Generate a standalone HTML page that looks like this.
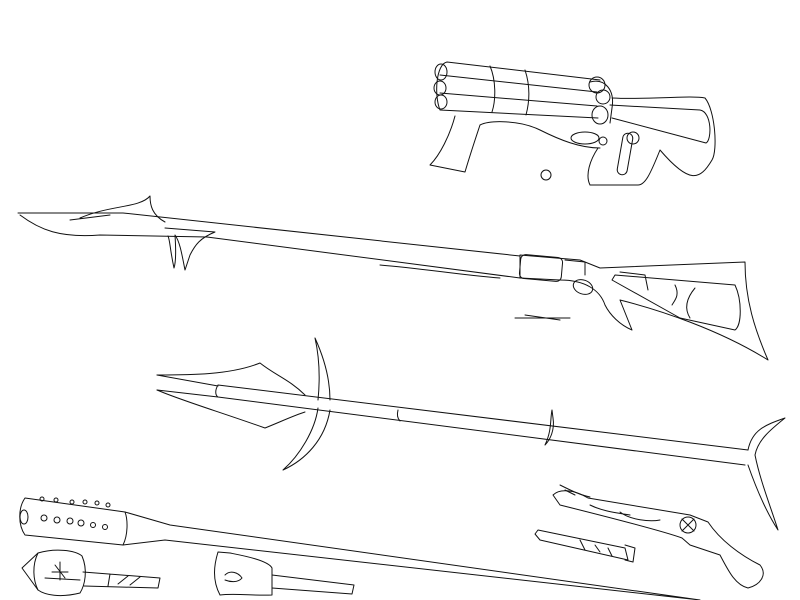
<!DOCTYPE html>
<html><head><style>html,body{margin:0;background:#fff}svg{display:block}</style></head><body>
<svg width="800" height="600" viewBox="0 0 800 600" fill="none" stroke="#111" stroke-width="1" stroke-linecap="round" stroke-linejoin="round">
<!-- top gun -->
<g>
<path d="M447 62 L600 80 M447 62 C436 64 434 95 440 110 L598 118"/>
<path d="M440 75 L597 92 M440 93 L597 106"/>
<path d="M490 66 C496 80 496 100 492 112 M525 70 C530 85 530 100 526 115"/>
<ellipse cx="441" cy="72" rx="6" ry="8"/><ellipse cx="440" cy="88" rx="6" ry="7"/><ellipse cx="441" cy="102" rx="6" ry="7"/>
<ellipse cx="597" cy="85" rx="8" ry="8"/><ellipse cx="603" cy="97" rx="7" ry="7"/><ellipse cx="600" cy="115" rx="8" ry="9"/>
<path d="M590 82 C605 78 615 90 612 108 L610 123"/>
<path d="M610 105 L700 110 C712 112 712 140 706 143 L612 118"/>
<path d="M612 98 C650 100 690 95 705 98 C715 110 718 150 712 160 C700 180 690 185 660 150 C650 175 645 185 638 185 L590 185 C585 175 590 160 598 148"/>
<path d="M455 116 C450 135 440 155 430 165 L465 172 C470 155 475 140 480 125 C490 120 520 120 540 130 C560 140 580 148 600 148"/>
<ellipse cx="585" cy="138" rx="14" ry="6"/>
<circle cx="603" cy="141" r="4"/>
<rect x="620" y="133" width="10" height="42" rx="5" transform="rotate(10 625 154)"/>
<circle cx="633" cy="138" r="6"/>
<circle cx="546" cy="175" r="5"/>
</g>
<!-- spear rifle -->
<g>
<path d="M18 213 L123 213 L520 256 M20 215 C40 230 60 238 100 235 L207 237 L520 278"/>
<path d="M80 218 C110 205 140 208 150 196 C150 205 152 215 165 222 M70 220 L110 215"/>
<path d="M165 228 L215 232 C200 238 195 245 190 255 L185 270 C182 255 180 242 175 235 C176 250 176 262 174 268 C170 250 170 240 168 236" />
<path d="M380 265 C420 268 460 275 500 278"/>
<path d="M520 255 L580 260 L600 268 L745 262 C745 300 755 330 768 360 C720 330 660 310 620 300 L632 330 C620 325 610 315 605 305 C600 290 585 280 560 280 L520 278 Z"/>
<rect x="520" y="256" width="42" height="24" rx="5" transform="rotate(5 541 268)"/>
<path d="M565 260 L585 262 L585 275"/>
<ellipse cx="583" cy="287" rx="10" ry="7" transform="rotate(20 583 287)"/>
<path d="M615 275 L735 285 C742 300 742 325 735 330 L680 318 L612 280 Z"/>
<path d="M620 272 L645 275 L648 290"/>
<path d="M675 285 C680 295 675 300 672 305 M695 288 C685 300 685 310 690 318"/>
<path d="M515 318 L570 318 M525 315 L560 320"/>
</g>
<!-- spear -->
<g>
<path d="M218 385 L748 450 M218 397 L745 465 M218 385 C215 390 215 395 218 397"/>
<path d="M157 375 L218 386 M157 390 L218 397"/>
<path d="M157 375 C190 375 230 375 260 363 C275 375 290 380 305 395"/>
<path d="M157 390 C180 400 220 412 265 428 C280 422 295 415 305 412"/>
<path d="M315 338 C325 360 330 380 330 400 M315 338 C320 360 320 380 318 400"/>
<path d="M330 410 C325 440 305 460 283 470 M318 408 C315 430 300 455 283 470"/>
<path d="M398 410 C397 414 397 418 400 421"/>
<path d="M552 410 C550 420 552 430 545 445 C550 440 555 430 553 418 Z"/>
<path d="M748 450 C752 430 765 425 785 418 C770 430 758 440 755 455 C760 480 770 505 778 530 C765 510 755 485 748 465"/>
</g>
<!-- club -->
<g>
<path d="M25 498 L125 512 C128 520 128 535 123 545 L25 535 C18 525 18 508 25 498 Z"/>
<path d="M125 512 L170 525 L700 600 M123 545 L165 540 L700 600"/>
<ellipse cx="24" cy="517" rx="4" ry="7"/>
<circle cx="44" cy="518" r="3"/><circle cx="57" cy="520" r="3"/><circle cx="70" cy="521" r="3"/><circle cx="81" cy="523" r="3"/><circle cx="93" cy="525" r="2.5"/><circle cx="105" cy="527" r="2.5"/>
<circle cx="42" cy="499" r="2"/><circle cx="56" cy="500" r="2"/><circle cx="72" cy="502" r="2"/><circle cx="85" cy="502" r="2"/><circle cx="97" cy="503" r="2"/><circle cx="108" cy="505" r="2"/>
</g>
<!-- bottom items -->
<g>
<path d="M22 568 L38 553 C55 548 75 550 82 556 C88 570 85 585 80 593 C60 598 45 595 38 590 Z"/>
<path d="M38 553 C32 565 33 580 38 590 M45 578 L80 580"/>
<path d="M55 565 L65 578 M60 562 L60 580 M52 572 L68 572"/>
<path d="M83 572 L160 578 L158 588 L84 586 M110 574 L108 586 M118 584 L128 576 M130 585 L140 577"/>
<path d="M218 552 L230 553 C240 555 268 560 272 568 L272 595 C255 596 235 593 220 595 C212 580 214 565 218 552 Z"/>
<path d="M225 575 C230 570 238 572 242 578 C238 583 230 582 225 580"/>
<path d="M272 575 L354 585 L352 594 L272 588"/>
</g>
<!-- pistol & bolt -->
<g>
<path d="M553 495 C560 488 575 490 588 498 L690 515 L708 522 C720 540 740 555 760 565 C768 575 760 585 748 588 C735 585 728 570 720 555 L690 545 L682 538 C660 530 600 515 560 505 Z"/>
<path d="M560 485 C570 490 580 495 590 497 M565 490 L575 495"/>
<path d="M590 505 C600 510 610 512 630 515 M620 512 C630 520 650 522 660 520"/>
<circle cx="688" cy="525" r="8"/><path d="M682 519 L694 531 M694 519 L682 531"/>
<path d="M538 530 L625 548 L628 560 L540 540 L535 534 Z"/>
<path d="M625 545 L635 548 L633 562 L625 560"/>
<path d="M580 540 L585 550 M595 545 L600 552 M608 548 L612 556"/>
</g>
</svg>
</body></html>
